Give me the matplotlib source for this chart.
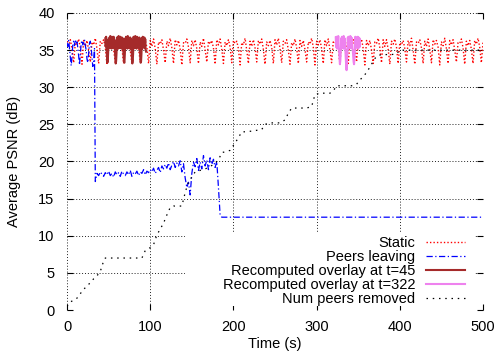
import matplotlib
matplotlib.use("Agg")
import matplotlib.pyplot as plt
from matplotlib.patches import Rectangle
import numpy as np

plt.rcParams['font.family'] = ['Liberation Sans', 'DejaVu Sans']

# Static: one row per 10 s, samples every 2 s
static_db = [
    36.2, 35.6, 36.4, 35.1, 33.3,
    36.0, 35.8, 36.5, 35.3, 33.1,
    36.3, 35.5, 36.3, 35.0, 33.4,
    36.1, 35.7, 36.6, 35.2, 33.2,
    36.2, 35.9, 36.4, 35.4, 33.0,
    36.4, 35.6, 36.2, 35.1, 33.3,
    36.1, 35.8, 36.5, 35.3, 33.2,
    36.3, 35.7, 36.4, 35.0, 33.1,
    36.0, 35.6, 36.6, 35.2, 33.4,
    36.2, 35.9, 36.3, 35.4, 33.2,
    36.3, 35.5, 36.5, 35.2, 33.1,
    36.1, 35.8, 36.4, 35.0, 33.3,
    36.2, 35.6, 36.6, 35.3, 33.2,
    36.4, 35.7, 36.3, 35.1, 33.0,
    36.0, 35.9, 36.5, 35.4, 33.3,
    36.3, 35.6, 36.4, 35.2, 33.2,
    36.1, 35.5, 36.6, 35.0, 33.4,
    36.2, 35.8, 36.3, 35.3, 33.1,
    36.4, 35.7, 36.5, 35.1, 33.2,
    36.1, 35.6, 36.4, 35.4, 33.3,
    36.3, 35.9, 36.2, 35.2, 33.0,
    36.0, 35.7, 36.6, 35.0, 33.2,
    36.2, 35.5, 36.4, 35.3, 33.4,
    36.3, 35.8, 36.5, 35.1, 33.1,
    36.1, 35.6, 36.3, 35.4, 33.2,
    36.4, 35.7, 36.6, 35.2, 33.3,
    36.2, 35.9, 36.4, 35.0, 33.1,
    36.0, 35.6, 36.5, 35.3, 33.2,
    36.3, 35.5, 36.3, 35.1, 33.4,
    36.1, 35.8, 36.6, 35.4, 33.0,
    36.2, 35.7, 36.4, 35.2, 33.2,
    36.4, 35.6, 36.5, 35.0, 33.3,
    36.1, 35.9, 36.3, 35.3, 33.1,
    36.3, 35.5, 36.6, 35.1, 33.2,
    36.0, 35.8, 36.4, 35.4, 33.4,
    36.2, 35.7, 36.5, 35.2, 33.0,
    36.3, 35.6, 36.3, 35.0, 33.2,
    36.1, 35.9, 36.6, 35.3, 33.3,
    36.4, 35.5, 36.4, 35.1, 33.1,
    36.2, 35.8, 36.5, 35.4, 33.2,
    36.0, 35.7, 36.3, 35.2, 33.4,
    36.3, 35.6, 36.6, 35.0, 33.1,
    36.1, 35.9, 36.4, 35.3, 33.2,
    36.2, 35.5, 36.5, 35.1, 33.3,
    36.4, 35.8, 36.3, 35.4, 33.0,
    36.1, 35.6, 36.6, 35.2, 33.2,
    36.3, 35.7, 36.4, 35.0, 33.4,
    36.0, 35.9, 36.5, 35.3, 33.1,
    36.2, 35.6, 36.3, 35.1, 33.2,
    36.3, 35.8, 36.6, 35.4, 33.3,
    36.1,
]
static_t = np.arange(len(static_db)) * 2

# Peers leaving
leave_t = list(range(0, 34)) + list(range(34, 188, 2)) + [500]
leave_db = [
    36.0, 35.5, 36.3, 35.2, 34.0, 32.9, 34.1, 35.8, 36.2, 35.6,
    36.4, 35.9, 36.1, 35.3, 34.2, 33.0, 34.5, 35.9, 36.3, 35.7,
    36.0, 36.4, 35.6, 35.0, 33.8, 33.3, 34.6, 35.9, 36.2, 35.4,
    34.0, 32.8, 33.5, 35.2,
    17.3, 18.4, 18.1, 18.6, 18.3, 18.0, 18.5, 18.2, 18.7, 18.1,
    18.4, 17.9, 18.6, 18.2, 18.5, 18.0, 18.7, 18.3, 18.1, 18.6,
    18.2, 18.8, 18.0, 18.5, 18.3, 18.7, 18.1, 18.6, 18.4, 18.9,
    18.2, 18.7, 18.5, 18.9, 18.6, 19.1, 18.4, 18.8, 19.2, 18.5,
    19.4, 19.0, 19.6, 19.1, 19.8, 18.9, 19.5, 20.0, 19.2, 19.8,
    19.4, 20.1, 18.6, 19.7, 17.8, 16.5, 17.2, 15.5, 18.4, 19.9,
    19.3, 20.4, 18.8, 19.9, 19.0, 20.8, 19.4, 20.2, 18.9, 20.5,
    19.6, 20.3, 19.2, 20.0, 16.5, 12.8, 12.5,
    12.5,
]

# Recomputed overlay at t=45, samples every 0.5 s
over45_db = [
    36.6, 35.5, 36.8, 35.2, 34.2, 33.3, 33.6, 34.8, 36.5, 35.4,
    36.7, 35.3, 36.9, 35.6, 36.5, 35.2, 36.8, 35.4, 36.6, 35.5,
    36.8, 35.3, 36.4, 35.0, 34.1, 33.2, 33.5, 34.6, 36.7, 35.4,
    36.6, 35.2, 36.9, 35.5, 36.7, 35.3, 36.8, 35.6, 36.5, 35.2,
    36.7, 35.4, 36.6, 35.1, 34.3, 33.4, 33.3, 34.5, 36.6, 35.3,
    36.8, 35.5, 36.6, 35.2, 36.9, 35.4, 36.7, 35.3, 36.5, 35.6,
    36.7, 35.2, 36.5, 35.0, 34.0, 33.2, 33.6, 34.7, 36.8, 35.4,
    36.6, 35.3, 36.9, 35.5, 36.6, 35.2, 36.8, 35.4, 36.7, 35.5,
    36.5, 35.3, 36.7, 35.1, 34.2, 33.3, 33.5, 34.6, 36.6, 35.2,
    36.8, 35.4, 36.6, 35.5, 36.7, 35.3, 36.5, 35.0, 34.8,
]
over45_t = 46 + np.arange(len(over45_db)) * 0.5

# Recomputed overlay at t=322, samples every 0.5 s
over322_db = [
    36.7, 35.4, 36.8, 35.2, 36.6, 35.5, 36.9, 35.3, 35.0, 34.0,
    33.1, 33.6, 34.9, 36.6, 35.3, 36.8, 35.5, 36.7, 35.2, 36.9,
    35.4, 36.6, 35.3, 35.1, 34.0, 33.0, 32.3, 33.4, 34.8, 36.7,
    35.5, 36.8, 35.2, 36.6, 35.4, 36.9, 35.3, 36.7, 35.5, 36.6,
    35.2, 35.0, 34.1, 33.4, 33.1, 34.0, 35.2, 36.8, 35.4, 36.7,
    35.3, 36.6, 35.5, 36.8, 35.2, 36.7, 35.4, 36.6, 35.5,
]
over322_t = 323 + np.arange(len(over322_db)) * 0.5

# Num peers removed
removed_t = [0, 4, 8, 12, 16, 20, 24, 28, 32, 36, 40, 44, 46, 52, 58, 64, 70, 76, 82, 90,
             94, 100, 104, 108, 112, 116, 120, 124, 128, 134, 138, 142, 146, 150, 154,
             160, 166, 170, 176, 182, 186, 190, 196, 202, 206, 210, 216, 222, 228, 234,
             238, 244, 250, 256, 262, 266, 270, 276, 282, 288, 294, 298, 304, 310, 316,
             320, 324, 330, 336, 342, 348, 352, 356, 360, 364, 368, 372, 378, 384, 390,
             396, 400, 410, 420, 430, 440, 450, 460, 470, 480, 490, 500]
removed_n = [0.5, 1.1, 1.3, 1.6, 2.2, 2.8, 3.2, 3.7, 4.2, 4.6, 5.2, 6.6, 7.0, 7.0, 7.0,
             7.0, 7.0, 7.0, 7.0, 7.0,
             8.0, 8.4, 8.8, 10.1, 10.9, 11.7, 12.8, 13.8, 14.0, 14.0, 14.0, 15.8, 17.3,
             17.9, 18.6, 18.8, 19.0, 19.2, 19.6, 20.2, 21.2, 21.3, 21.5, 22.5, 23.2, 24.0,
             24.0, 24.1, 24.2, 24.3, 25.0, 25.2, 25.2, 25.2, 25.6, 26.5, 27.2, 27.2, 27.2,
             27.2, 27.4, 29.0, 29.2, 29.2, 29.2, 29.5, 30.2, 30.2, 30.2, 30.2, 30.4, 31.0,
             31.4, 32.0, 32.7, 33.5, 34.2, 34.4, 34.4, 34.4, 34.5, 35.0, 35.0, 35.0, 35.0,
             35.0, 35.0, 35.0, 35.0, 35.0, 35.0, 35.0]

fig = plt.figure(figsize=(4.95, 3.56), dpi=100)
ax = fig.add_axes([0.1354, 0.1292, 0.8404, 0.8343])

ax.plot(static_t, static_db, color='#ff0000', lw=1.0, ls=(0, (1, 1.5)), label='Static', zorder=2)
ax.plot(leave_t, leave_db, color='#0000ff', lw=0.9, ls=(0, (5, 2, 1, 2)), label='Peers leaving', zorder=3)
ax.plot(over45_t, over45_db, color='#a52a2a', lw=1.5, label='Recomputed overlay at t=45', zorder=4)
ax.plot(over322_t, over322_db, color='#ee82ee', lw=1.5, label='Recomputed overlay at t=322', zorder=4)
ax.plot(removed_t, removed_n, color='black', lw=0.9, ls=(0, (1.2, 3.8)), label='Num peers removed', zorder=5)

ax.set_xlim(0, 500)
ax.set_ylim(0, 40)
ax.set_xticks(range(0, 501, 100))
ax.set_yticks(range(0, 41, 5))
ax.set_axisbelow(True)
ax.grid(True, color='#222222', lw=0.7, ls=(0, (1, 2)))
for s in ax.spines.values():
    s.set_visible(False)
ax.tick_params(direction='in', length=4, width=0.8, top=True, right=True,
               labelsize=10.5)
ax.tick_params(axis='y', pad=9)
ax.tick_params(axis='x', pad=7)

# key box hides the grid behind it
ax.add_patch(Rectangle((0.284, 0.012), 0.696, 0.248, transform=ax.transAxes,
                       facecolor='white', edgecolor='none', zorder=1))

ax.set_xlabel('Time (s)', fontsize=10.5, labelpad=2)
ax.set_ylabel('Average PSNR (dB)', fontsize=10.5, labelpad=12)

ax.legend(loc='lower right', bbox_to_anchor=(0.957, 0.012), frameon=False,
          markerfirst=False, fontsize=10.5, handlelength=2.7, handletextpad=0.7,
          labelspacing=0.0, borderpad=0, borderaxespad=0)

fig.savefig('out.png', dpi=100)
